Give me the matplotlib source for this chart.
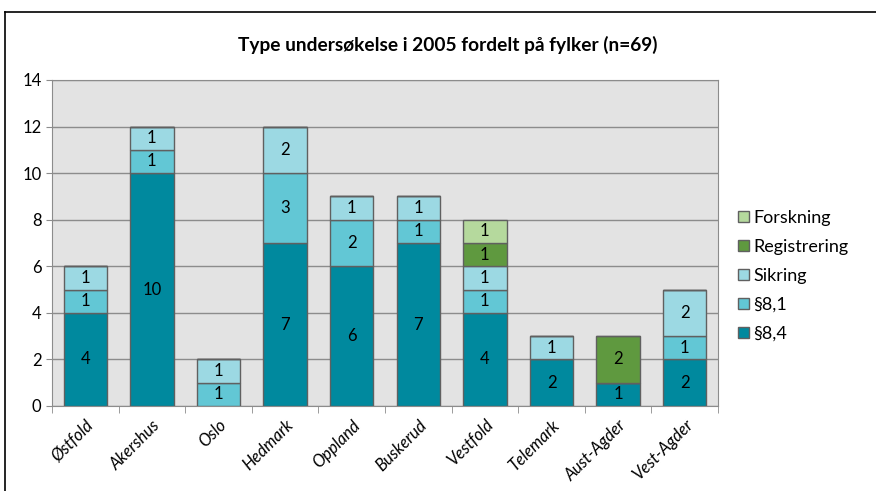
import matplotlib.pyplot as plt
import numpy as np
from matplotlib.lines import Line2D

plt.rcParams['font.family'] = ['Lato', 'DejaVu Sans']

fylker = ['Østfold', 'Akershus', 'Oslo', 'Hedmark', 'Oppland', 'Buskerud',
          'Vestfold', 'Telemark', 'Aust-Agder', 'Vest-Agder']
p84 = [4, 10, 0, 7, 6, 7, 4, 2, 1, 2]
p81 = [1, 1, 1, 3, 2, 1, 1, 0, 0, 1]
sikring = [1, 1, 1, 2, 1, 1, 1, 1, 0, 2]
registrering = [0, 0, 0, 0, 0, 0, 1, 0, 2, 0]
forskning = [0, 0, 0, 0, 0, 0, 1, 0, 0, 0]

series = [('§8,4', p84, '#00899E'),
          ('§8,1', p81, '#62C7D5'),
          ('Sikring', sikring, '#9CD9E3'),
          ('Registrering', registrering, '#5F993F'),
          ('Forskning', forskning, '#B5D99D')]

fig = plt.figure(figsize=(8.76, 4.91), dpi=100)
ax = fig.add_axes([52/876, 1-406/491, 666/876, 326/491])
ax.set_facecolor('#E3E3E3')

x = np.arange(len(fylker))
bottom = np.zeros(len(fylker))
handles = []
for name, vals, col in series:
    vals = np.array(vals)
    bars = ax.bar(x, vals, 0.65, bottom=bottom, color=col, edgecolor='#606060',
                  linewidth=1, label=name, zorder=3)
    handles.append(bars)
    for xi, v, b in zip(x, vals, bottom):
        if v > 0:
            ax.text(xi, b + v/2, str(v), ha='center', va='center', fontsize=12, zorder=4)
    bottom += vals

ax.set_xlim(-0.5, len(fylker) - 0.5)
ax.set_ylim(0, 14)
ax.set_yticks(range(0, 15, 2))
ax.yaxis.grid(True, color='#8C8C8C', linewidth=1, zorder=0)
ax.set_axisbelow(True)
ax.set_xticks(x)
ax.set_xticklabels(fylker, rotation=45, ha='right', rotation_mode='anchor',
                   style='italic', fontsize=12)
ax.tick_params(axis='y', labelsize=12, length=4, color='#8C8C8C')
ax.set_xticks(np.arange(-0.5, len(fylker)), minor=True)
ax.tick_params(axis='x', which='minor', length=5, color='#8C8C8C')
ax.tick_params(axis='x', which='major', length=0, pad=8)
for s in ax.spines.values():
    s.set_color('#8C8C8C')

fig.text(448/876, 1-45/491, 'Type undersøkelse i 2005 fordelt på fylker (n=69)',
         ha='center', va='center', fontsize=13.8, fontweight='bold')

leg = ax.legend(handles[::-1], [s[0] for s in series][::-1],
                loc='center left', bbox_to_anchor=(722/876, 1-276/491),
                bbox_transform=fig.transFigure, frameon=False, fontsize=13,
                handlelength=0.6, handleheight=0.6, handletextpad=0.25,
                labelspacing=0.72)

# frame of the original chart area (only left and top edges are visible)
fig.add_artist(Line2D([5/876, 5/876], [0, 1-12/491], color='black', linewidth=1.2))
fig.add_artist(Line2D([5/876, 1], [1-12/491, 1-12/491], color='black', linewidth=1.2))

fig.savefig('out.png', dpi=100)
